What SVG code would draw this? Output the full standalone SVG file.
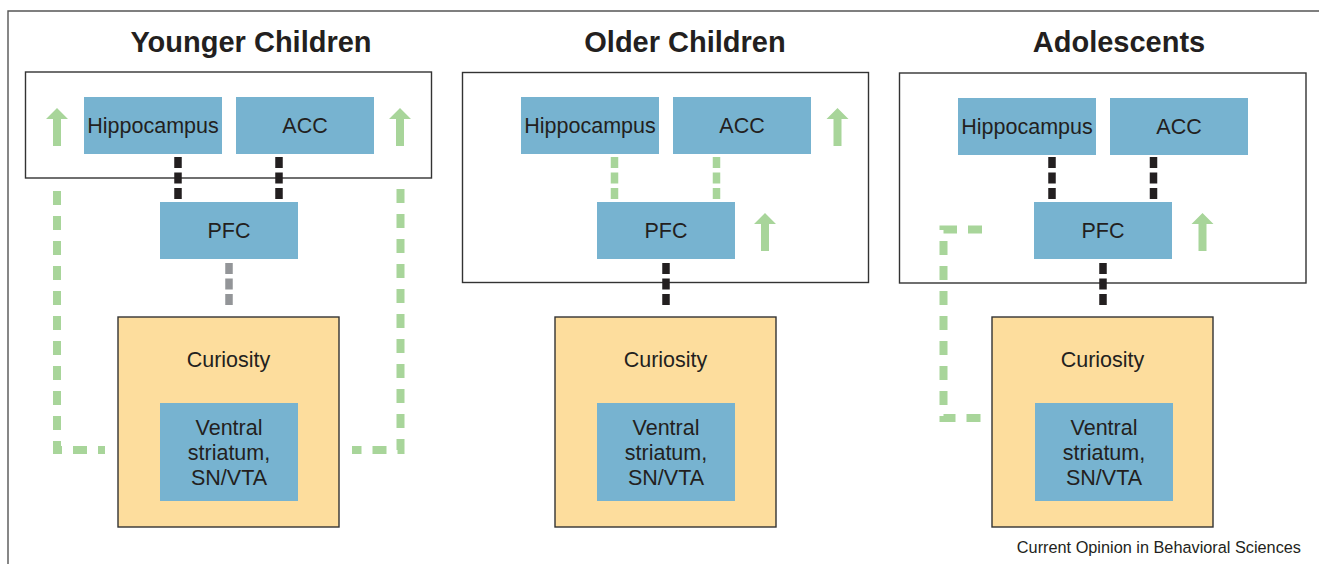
<svg xmlns="http://www.w3.org/2000/svg" width="1319" height="564" viewBox="0 0 1319 564">
<defs>
<style>
.title{font-family:"Liberation Sans",Arial,sans-serif;font-weight:bold;font-size:29px;fill:#231f20;text-anchor:middle}
.lbl{font-family:"Liberation Sans",Arial,sans-serif;font-size:21.5px;fill:#231f20;text-anchor:middle}
.cap{font-family:"Liberation Sans",Arial,sans-serif;font-size:16.3px;fill:#231f20;text-anchor:end}
.frame{fill:none;stroke:#333;stroke-width:1.4}
.blue{fill:#77b3d0}
.cur{fill:#fddd9d;stroke:#333;stroke-width:1.4}
.arrow{fill:#a8d59a}
.cb{fill:none;stroke:#231f20;stroke-width:7.5;stroke-dasharray:11 4.5}
.cg{fill:none;stroke:#a8d59a;stroke-width:7.5;stroke-dasharray:11 4.5}
.cgr{fill:none;stroke:#939598;stroke-width:7.5;stroke-dasharray:11 4.5}
.lg{fill:none;stroke:#a8d59a;stroke-width:8;stroke-dasharray:14 11}
</style>
<polygon id="arr" points="0,0 11,11 4,11 4,38 -4,38 -4,11 -11,11"/>
</defs>
<rect width="1319" height="564" fill="#fff"/>
<path d="M8,564 V11 H1319" fill="none" stroke="#555" stroke-width="1.4"/>

<g id="titles">
<text class="title" x="251" y="52">Younger Children</text>
<text class="title" x="685" y="52">Older Children</text>
<text class="title" x="1119" y="52">Adolescents</text>
</g>

<g id="containers">
<rect class="frame" x="25.5" y="72" width="406" height="106"/>
<rect class="frame" x="462.5" y="72.5" width="406" height="210"/>
<rect class="frame" x="899.5" y="73" width="406.5" height="210"/>
</g>

<g id="connectors">
<line class="cb" x1="178" y1="157" x2="178" y2="201"/>
<line class="cb" x1="279" y1="157" x2="279" y2="201"/>
<line class="cgr" x1="229" y1="263" x2="229" y2="306"/>
<path class="lg" d="M57,191 V450 H105"/>
<path class="lg" d="M400.5,189 V450 H352"/>
<line class="cg" x1="614.5" y1="157" x2="614.5" y2="201"/>
<line class="cg" x1="716.5" y1="157" x2="716.5" y2="201"/>
<line class="cb" x1="666" y1="263" x2="666" y2="306"/>
<line class="cb" x1="1052" y1="157" x2="1052" y2="201"/>
<line class="cb" x1="1153.5" y1="157" x2="1153.5" y2="201"/>
<line class="cb" x1="1103" y1="263" x2="1103" y2="306"/>
<path class="lg" d="M982,229.5 H943.5 V418 H982"/>
</g>

<g id="arrows">
<use href="#arr" class="arrow" x="57" y="108"/>
<use href="#arr" class="arrow" x="400" y="108"/>
<use href="#arr" class="arrow" x="837.5" y="108"/>
<use href="#arr" class="arrow" x="765" y="213"/>
<use href="#arr" class="arrow" x="1202.5" y="213"/>
</g>

<g id="yc-hippocampus"><rect class="blue" x="84" y="97" width="138" height="57"/><text class="lbl" x="153" y="133">Hippocampus</text></g>
<g id="yc-acc"><rect class="blue" x="236" y="97" width="138" height="57"/><text class="lbl" x="305" y="133">ACC</text></g>
<g id="yc-pfc"><rect class="blue" x="160" y="202" width="138" height="57"/><text class="lbl" x="229" y="238">PFC</text></g>
<g id="yc-curiosity"><rect class="cur" x="118" y="317" width="221" height="210"/><text class="lbl" x="228.5" y="367">Curiosity</text></g>
<g id="yc-vs"><rect class="blue" x="160" y="403" width="138" height="98"/><text class="lbl" x="229" y="435">Ventral</text><text class="lbl" x="229" y="460">striatum,</text><text class="lbl" x="229" y="485">SN/VTA</text></g>

<g id="oc-hippocampus"><rect class="blue" x="521" y="97" width="138" height="57"/><text class="lbl" x="590" y="133">Hippocampus</text></g>
<g id="oc-acc"><rect class="blue" x="673" y="97" width="138" height="57"/><text class="lbl" x="742" y="133">ACC</text></g>
<g id="oc-pfc"><rect class="blue" x="597" y="202" width="138" height="57"/><text class="lbl" x="666" y="238">PFC</text></g>
<g id="oc-curiosity"><rect class="cur" x="555" y="317" width="221" height="210"/><text class="lbl" x="665.5" y="367">Curiosity</text></g>
<g id="oc-vs"><rect class="blue" x="597" y="403" width="138" height="98"/><text class="lbl" x="666" y="435">Ventral</text><text class="lbl" x="666" y="460">striatum,</text><text class="lbl" x="666" y="485">SN/VTA</text></g>

<g id="ad-hippocampus"><rect class="blue" x="958" y="98" width="138" height="57"/><text class="lbl" x="1027" y="134">Hippocampus</text></g>
<g id="ad-acc"><rect class="blue" x="1110" y="98" width="138" height="57"/><text class="lbl" x="1179" y="134">ACC</text></g>
<g id="ad-pfc"><rect class="blue" x="1034" y="202" width="138" height="57"/><text class="lbl" x="1103" y="238">PFC</text></g>
<g id="ad-curiosity"><rect class="cur" x="992" y="317" width="221" height="210"/><text class="lbl" x="1102.5" y="367">Curiosity</text></g>
<g id="ad-vs"><rect class="blue" x="1035" y="403" width="138" height="98"/><text class="lbl" x="1104" y="435">Ventral</text><text class="lbl" x="1104" y="460">striatum,</text><text class="lbl" x="1104" y="485">SN/VTA</text></g>

<text class="cap" x="1301" y="553">Current Opinion in Behavioral Sciences</text>
</svg>
